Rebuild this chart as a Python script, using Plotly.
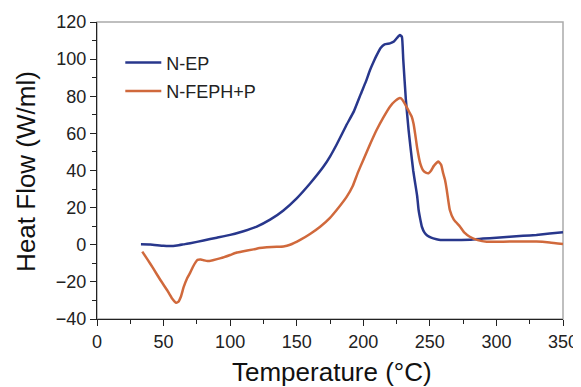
import plotly.graph_objects as go

# N-EP (blue)
nep_T = [33, 40, 50, 55, 60, 65, 70, 80, 90, 100, 110, 120, 130, 140, 150, 160, 170, 175, 180, 187,
         193, 198, 202, 205, 208, 210, 213, 216, 220, 223, 226, 227.5, 229, 230, 232, 234, 235.7,
         237.5, 239, 240.5, 241.5, 243, 244, 246, 248, 251, 255, 258, 270, 280, 290, 300, 310,
         320, 330, 340, 350]
nep_Q = [0.3, 0.2, -0.6, -0.7, -0.4, 0.2, 0.8, 2.3, 3.8, 5.3, 7.3, 9.8, 13.5, 18.5, 25, 33, 42, 47.5, 54, 64,
         72, 81, 88, 94, 99, 102, 106, 108, 108.5, 109.5, 112, 113, 112, 100, 78, 62, 51,
         40, 33, 26, 19, 13, 9.7, 6.5, 5, 3.8, 3, 2.6, 2.6, 2.7, 3.3, 3.8, 4.3,
         4.8, 5.3, 6, 6.8]

# N-FEPH+P (orange)
nfp_T = [34, 38, 42, 47.6, 52.6, 56, 59.4, 61, 63, 65, 67.7, 70, 72, 74, 75.5, 78, 80, 83, 87, 93, 100,
         105, 110, 117.6, 122, 127.6, 135, 140, 145, 152.6, 160, 167.6, 175, 180, 187.6, 192, 196,
         200, 205, 210, 215, 220, 224, 227.6, 229.5, 232.7, 234.5, 236.4, 237.8, 238.9, 240.5,
         242.7, 245, 247, 249, 251, 253, 256.4, 258.5, 260, 261.4, 262.7, 265, 268, 272.7, 276,
         280, 286, 292.7, 300, 310, 320, 330, 340, 350]
nfp_Q = [-3.7, -8, -12.5, -19, -24.4, -28.5, -31.2, -30.8, -28, -23, -18, -15, -12, -9.5, -8.2, -8, -8.3,
         -8.8, -8.3, -7.2, -5.5, -4.2, -3.5, -2.5, -1.8, -1.4, -1.1, -0.9, 0, 2.6, 5.8, 9.7, 14.5,
         18.7, 25.9, 31.5, 39, 45.7, 54, 61.8, 68.5, 74.4, 77.5, 79, 78, 74, 71.5, 69, 65, 60, 52,
         44, 40, 38.8, 38.5, 40, 42.5, 44.8, 43, 38.5, 34.9, 29.5, 18.7, 13.5, 9.7, 6.5,
         4.3, 2.5, 1.6, 1.6, 1.7, 1.8, 1.7, 1.2, 0.4]

x_ticks = [0, 50, 100, 150, 200, 250, 300, 350]
y_ticks = [-40, -20, 0, 20, 40, 60, 80, 100, 120]

FONT = "Liberation Sans, Arial, sans-serif"

fig = go.Figure()
fig.add_trace(go.Scatter(x=nep_T, y=nep_Q, mode="lines", name="N-EP", legendgroup="a",
                         line=dict(color="#28378c", width=2.5, shape="spline", smoothing=0.4)))
fig.add_trace(go.Scatter(x=nfp_T, y=nfp_Q, mode="lines", name="N-FEPH+P", legendgroup="b",
                         line=dict(color="#d0693c", width=2.5, shape="spline", smoothing=0.4)))

# grey top/right frame
fig.add_shape(type="rect", xref="paper", yref="paper", x0=0, x1=1, y0=0, y1=1,
              line=dict(color="#aaaaaa", width=1.5), layer="below")

axis_common = dict(showgrid=False, zeroline=False, showline=True, linecolor="#222222", linewidth=1.2,
                   ticks="outside", ticklen=6, tickwidth=1, tickcolor="#222222", automargin=False,
                   tickfont=dict(family=FONT, size=18, color="#222222"))

fig.update_xaxes(range=[0, 350], tickvals=x_ticks, **axis_common,
                 minor=dict(ticks="outside", ticklen=3.5, tickcolor="#222222", dtick=25, tick0=0))
fig.update_yaxes(range=[-40, 120], tickvals=y_ticks, **axis_common,
                 minor=dict(ticks="outside", ticklen=3.5, tickcolor="#222222", dtick=10, tick0=0))

# axis titles as annotations for precise placement
fig.add_annotation(text="Temperature (°C)", xref="paper", yref="paper", x=0.505, y=0,
                   yshift=-53, xanchor="center", yanchor="middle", showarrow=False,
                   font=dict(family=FONT, size=26, color="#111111"))
fig.add_annotation(text="Heat Flow (W/ml)", xref="paper", yref="paper", x=0, y=0.497,
                   xshift=-70.5, xanchor="center", yanchor="middle", showarrow=False, textangle=-90,
                   font=dict(family=FONT, size=26, color="#111111"))

fig.update_layout(
    width=573, height=379,
    margin=dict(l=88.5, r=18, t=14, b=68),
    plot_bgcolor="white", paper_bgcolor="white",
    legend=dict(x=0.05, y=0.925, xanchor="left", yanchor="top", bgcolor="rgba(0,0,0,0)",
                font=dict(family=FONT, size=18, color="#222222"), tracegroupgap=2,
                traceorder="grouped", itemwidth=36),
    showlegend=True,
)

fig.write_html("out.html")
